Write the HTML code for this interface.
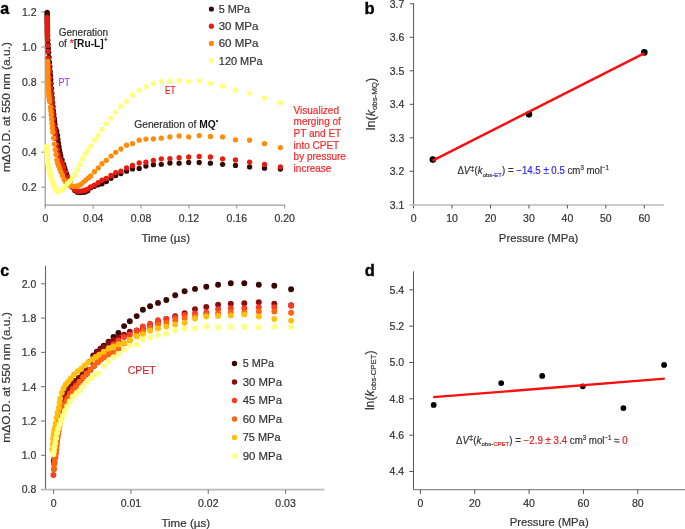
<!DOCTYPE html>
<html><head><meta charset="utf-8"><style>
html,body{margin:0;padding:0;background:#fff;width:685px;height:529px;overflow:hidden}
svg{display:block;will-change:transform}
text{font-family:"Liberation Sans",sans-serif}
</style></head><body>
<svg width="685" height="529" viewBox="0 0 685 529">
<rect width="685" height="529" fill="#fff"/>
<line x1="45.20" y1="11.50" x2="45.20" y2="208.60" stroke="#9a9a9a" stroke-width="1.2"/>
<line x1="44.60" y1="205.10" x2="284.90" y2="205.10" stroke="#9a9a9a" stroke-width="1.2"/>
<line x1="41.20" y1="12.00" x2="45.20" y2="12.00" stroke="#9a9a9a" stroke-width="1.1"/>
<text id="t_n1" x="36.50" y="15.80" font-size="10.5" text-anchor="end" fill="#333333" font-weight="normal" stroke="#333333" stroke-width="0.2" >1.2</text>
<line x1="41.20" y1="47.04" x2="45.20" y2="47.04" stroke="#9a9a9a" stroke-width="1.1"/>
<text id="t_n2" x="36.50" y="50.84" font-size="10.5" text-anchor="end" fill="#333333" font-weight="normal" stroke="#333333" stroke-width="0.2" >1.0</text>
<line x1="41.20" y1="82.08" x2="45.20" y2="82.08" stroke="#9a9a9a" stroke-width="1.1"/>
<text id="t_n3" x="36.50" y="85.88" font-size="10.5" text-anchor="end" fill="#333333" font-weight="normal" stroke="#333333" stroke-width="0.2" >0.8</text>
<line x1="41.20" y1="117.12" x2="45.20" y2="117.12" stroke="#9a9a9a" stroke-width="1.1"/>
<text id="t_n4" x="36.50" y="120.92" font-size="10.5" text-anchor="end" fill="#333333" font-weight="normal" stroke="#333333" stroke-width="0.2" >0.6</text>
<line x1="41.20" y1="152.16" x2="45.20" y2="152.16" stroke="#9a9a9a" stroke-width="1.1"/>
<text id="t_n5" x="36.50" y="155.96" font-size="10.5" text-anchor="end" fill="#333333" font-weight="normal" stroke="#333333" stroke-width="0.2" >0.4</text>
<line x1="41.20" y1="187.20" x2="45.20" y2="187.20" stroke="#9a9a9a" stroke-width="1.1"/>
<text id="t_n6" x="36.50" y="191.00" font-size="10.5" text-anchor="end" fill="#333333" font-weight="normal" stroke="#333333" stroke-width="0.2" >0.2</text>
<text id="t_n7" x="45.30" y="221.60" font-size="10.5" text-anchor="middle" fill="#333333" font-weight="normal" stroke="#333333" stroke-width="0.2" >0</text>
<line x1="93.18" y1="205.10" x2="93.18" y2="208.60" stroke="#9a9a9a" stroke-width="1.1"/>
<text id="t_n8" x="93.18" y="221.60" font-size="10.5" text-anchor="middle" fill="#333333" font-weight="normal" stroke="#333333" stroke-width="0.2" >0.04</text>
<line x1="141.06" y1="205.10" x2="141.06" y2="208.60" stroke="#9a9a9a" stroke-width="1.1"/>
<text id="t_n9" x="141.06" y="221.60" font-size="10.5" text-anchor="middle" fill="#333333" font-weight="normal" stroke="#333333" stroke-width="0.2" >0.08</text>
<line x1="188.94" y1="205.10" x2="188.94" y2="208.60" stroke="#9a9a9a" stroke-width="1.1"/>
<text id="t_n10" x="188.94" y="221.60" font-size="10.5" text-anchor="middle" fill="#333333" font-weight="normal" stroke="#333333" stroke-width="0.2" >0.12</text>
<line x1="236.82" y1="205.10" x2="236.82" y2="208.60" stroke="#9a9a9a" stroke-width="1.1"/>
<text id="t_n11" x="236.82" y="221.60" font-size="10.5" text-anchor="middle" fill="#333333" font-weight="normal" stroke="#333333" stroke-width="0.2" >0.16</text>
<line x1="284.70" y1="205.10" x2="284.70" y2="208.60" stroke="#9a9a9a" stroke-width="1.1"/>
<text id="t_n12" x="284.70" y="221.60" font-size="10.5" text-anchor="middle" fill="#333333" font-weight="normal" stroke="#333333" stroke-width="0.2" >0.20</text>
<g transform="matrix(0.9816,0,0,1,3.771,0)"><text id="t_timea" x="165.00" y="241.90" font-size="11.8" text-anchor="middle" fill="#333333" font-weight="normal" stroke="#333333" stroke-width="0.2" >Time (µs)</text></g>
<g transform="matrix(1,0,0,1.0866,-2.0,-15.674)"><text id="t_ya" stroke-width="0.2" transform="translate(12.3,113) rotate(-90)" font-size="11" text-anchor="middle" fill="#333333" stroke="#333333">mΔO.D. at 550 nm (a.u.)</text></g>
<text id="t_La" x="0.20" y="13.80" font-size="16" text-anchor="start" fill="#000" font-weight="bold" stroke="#000" stroke-width="0" style="stroke-width:0.35px">a</text>
<circle cx="47.20" cy="12.30" r="2.65" fill="#380808"/>
<circle cx="47.24" cy="13.71" r="2.65" fill="#380808"/>
<circle cx="47.27" cy="15.14" r="2.65" fill="#380808"/>
<circle cx="47.30" cy="16.51" r="2.65" fill="#380808"/>
<circle cx="47.33" cy="17.96" r="2.65" fill="#380808"/>
<circle cx="47.36" cy="19.41" r="2.65" fill="#380808"/>
<circle cx="47.38" cy="20.77" r="2.65" fill="#380808"/>
<circle cx="47.40" cy="22.20" r="2.65" fill="#380808"/>
<circle cx="47.42" cy="23.56" r="2.65" fill="#380808"/>
<circle cx="47.44" cy="25.05" r="2.65" fill="#380808"/>
<circle cx="47.46" cy="26.41" r="2.65" fill="#380808"/>
<circle cx="47.48" cy="27.75" r="2.65" fill="#380808"/>
<circle cx="47.50" cy="29.25" r="2.65" fill="#380808"/>
<circle cx="47.52" cy="30.56" r="2.65" fill="#380808"/>
<circle cx="47.64" cy="35.35" r="2.65" fill="#380808"/>
<circle cx="47.84" cy="40.13" r="2.65" fill="#380808"/>
<circle cx="48.10" cy="44.28" r="2.65" fill="#380808"/>
<circle cx="48.37" cy="48.36" r="2.65" fill="#380808"/>
<circle cx="48.64" cy="52.47" r="2.65" fill="#380808"/>
<circle cx="49.00" cy="57.32" r="2.65" fill="#380808"/>
<circle cx="49.44" cy="62.16" r="2.65" fill="#380808"/>
<circle cx="49.89" cy="66.96" r="2.65" fill="#380808"/>
<circle cx="50.24" cy="71.70" r="2.65" fill="#380808"/>
<circle cx="50.49" cy="75.69" r="2.65" fill="#380808"/>
<circle cx="50.75" cy="79.61" r="2.65" fill="#380808"/>
<circle cx="51.04" cy="83.52" r="2.65" fill="#380808"/>
<circle cx="51.43" cy="88.48" r="2.65" fill="#380808"/>
<circle cx="51.84" cy="93.42" r="2.65" fill="#380808"/>
<circle cx="52.23" cy="97.99" r="2.65" fill="#380808"/>
<circle cx="52.64" cy="102.47" r="2.65" fill="#380808"/>
<circle cx="53.04" cy="106.74" r="2.65" fill="#380808"/>
<circle cx="53.44" cy="110.96" r="2.65" fill="#380808"/>
<circle cx="53.81" cy="114.73" r="2.65" fill="#380808"/>
<circle cx="54.24" cy="118.46" r="2.65" fill="#380808"/>
<circle cx="54.62" cy="121.51" r="2.65" fill="#380808"/>
<circle cx="55.04" cy="124.55" r="2.65" fill="#380808"/>
<circle cx="55.84" cy="128.80" r="2.65" fill="#380808"/>
<circle cx="56.64" cy="131.20" r="2.65" fill="#380808"/>
<circle cx="57.48" cy="135.14" r="2.65" fill="#380808"/>
<circle cx="57.89" cy="139.18" r="2.65" fill="#380808"/>
<circle cx="58.44" cy="143.16" r="2.65" fill="#380808"/>
<circle cx="59.00" cy="146.67" r="2.65" fill="#380808"/>
<circle cx="59.52" cy="150.14" r="2.65" fill="#380808"/>
<circle cx="60.02" cy="152.98" r="2.65" fill="#380808"/>
<circle cx="60.73" cy="155.72" r="2.65" fill="#380808"/>
<circle cx="62.11" cy="159.95" r="2.65" fill="#380808"/>
<circle cx="63.67" cy="164.51" r="2.65" fill="#380808"/>
<circle cx="64.53" cy="167.42" r="2.65" fill="#380808"/>
<circle cx="65.42" cy="170.30" r="2.65" fill="#380808"/>
<circle cx="66.39" cy="173.33" r="2.65" fill="#380808"/>
<circle cx="67.41" cy="176.29" r="2.65" fill="#380808"/>
<circle cx="69.65" cy="181.81" r="2.65" fill="#380808"/>
<circle cx="72.19" cy="186.98" r="2.65" fill="#380808"/>
<circle cx="74.79" cy="190.51" r="2.65" fill="#380808"/>
<circle cx="77.39" cy="192.28" r="2.65" fill="#380808"/>
<circle cx="79.99" cy="192.58" r="2.65" fill="#380808"/>
<circle cx="82.59" cy="192.45" r="2.65" fill="#380808"/>
<circle cx="85.19" cy="192.10" r="2.65" fill="#380808"/>
<circle cx="87.79" cy="190.65" r="2.65" fill="#380808"/>
<circle cx="90.70" cy="187.80" r="2.65" fill="#380808"/>
<circle cx="94.40" cy="186.30" r="2.65" fill="#380808"/>
<circle cx="98.20" cy="184.80" r="2.65" fill="#380808"/>
<circle cx="102.00" cy="183.80" r="2.65" fill="#380808"/>
<circle cx="106.30" cy="181.60" r="2.65" fill="#380808"/>
<circle cx="111.00" cy="178.30" r="2.65" fill="#380808"/>
<circle cx="115.70" cy="175.50" r="2.65" fill="#380808"/>
<circle cx="120.90" cy="173.60" r="2.65" fill="#380808"/>
<circle cx="126.60" cy="171.20" r="2.65" fill="#380808"/>
<circle cx="132.50" cy="168.90" r="2.65" fill="#380808"/>
<circle cx="139.20" cy="168.40" r="2.65" fill="#380808"/>
<circle cx="145.90" cy="166.00" r="2.65" fill="#380808"/>
<circle cx="153.40" cy="164.70" r="2.65" fill="#380808"/>
<circle cx="161.30" cy="164.30" r="2.65" fill="#380808"/>
<circle cx="169.90" cy="163.00" r="2.65" fill="#380808"/>
<circle cx="179.10" cy="163.20" r="2.65" fill="#380808"/>
<circle cx="188.70" cy="162.50" r="2.65" fill="#380808"/>
<circle cx="199.20" cy="162.50" r="2.65" fill="#380808"/>
<circle cx="210.40" cy="163.20" r="2.65" fill="#380808"/>
<circle cx="222.60" cy="164.30" r="2.65" fill="#380808"/>
<circle cx="235.50" cy="165.40" r="2.65" fill="#380808"/>
<circle cx="249.60" cy="166.90" r="2.65" fill="#380808"/>
<circle cx="264.50" cy="168.20" r="2.65" fill="#380808"/>
<circle cx="280.40" cy="169.10" r="2.65" fill="#380808"/>
<circle cx="47.20" cy="17.30" r="2.65" fill="#e61c0e"/>
<circle cx="47.21" cy="19.33" r="2.65" fill="#e61c0e"/>
<circle cx="47.22" cy="21.06" r="2.65" fill="#e61c0e"/>
<circle cx="47.23" cy="23.14" r="2.65" fill="#e61c0e"/>
<circle cx="47.24" cy="24.85" r="2.65" fill="#e61c0e"/>
<circle cx="47.25" cy="26.82" r="2.65" fill="#e61c0e"/>
<circle cx="47.25" cy="28.67" r="2.65" fill="#e61c0e"/>
<circle cx="47.26" cy="30.35" r="2.65" fill="#e61c0e"/>
<circle cx="47.28" cy="32.24" r="2.65" fill="#e61c0e"/>
<circle cx="47.29" cy="34.01" r="2.65" fill="#e61c0e"/>
<circle cx="47.34" cy="35.79" r="2.65" fill="#e61c0e"/>
<circle cx="47.41" cy="37.62" r="2.65" fill="#e61c0e"/>
<circle cx="47.52" cy="39.46" r="2.65" fill="#e61c0e"/>
<circle cx="47.70" cy="45.56" r="2.65" fill="#e61c0e"/>
<circle cx="47.84" cy="51.51" r="2.65" fill="#e61c0e"/>
<circle cx="48.12" cy="58.03" r="2.65" fill="#e61c0e"/>
<circle cx="48.64" cy="64.45" r="2.65" fill="#e61c0e"/>
<circle cx="49.06" cy="68.03" r="2.65" fill="#e61c0e"/>
<circle cx="49.44" cy="71.61" r="2.65" fill="#e61c0e"/>
<circle cx="49.87" cy="77.39" r="2.65" fill="#e61c0e"/>
<circle cx="50.24" cy="83.11" r="2.65" fill="#e61c0e"/>
<circle cx="50.61" cy="88.43" r="2.65" fill="#e61c0e"/>
<circle cx="51.04" cy="93.71" r="2.65" fill="#e61c0e"/>
<circle cx="51.44" cy="98.26" r="2.65" fill="#e61c0e"/>
<circle cx="51.84" cy="102.75" r="2.65" fill="#e61c0e"/>
<circle cx="52.24" cy="107.26" r="2.65" fill="#e61c0e"/>
<circle cx="52.64" cy="111.71" r="2.65" fill="#e61c0e"/>
<circle cx="53.01" cy="115.50" r="2.65" fill="#e61c0e"/>
<circle cx="53.44" cy="119.27" r="2.65" fill="#e61c0e"/>
<circle cx="54.24" cy="125.20" r="2.65" fill="#e61c0e"/>
<circle cx="55.04" cy="129.85" r="2.65" fill="#e61c0e"/>
<circle cx="55.47" cy="134.14" r="2.65" fill="#e61c0e"/>
<circle cx="55.84" cy="138.39" r="2.65" fill="#e61c0e"/>
<circle cx="56.64" cy="144.33" r="2.65" fill="#e61c0e"/>
<circle cx="57.48" cy="149.40" r="2.65" fill="#e61c0e"/>
<circle cx="58.44" cy="154.30" r="2.65" fill="#e61c0e"/>
<circle cx="59.52" cy="158.57" r="2.65" fill="#e61c0e"/>
<circle cx="60.73" cy="161.10" r="2.65" fill="#e61c0e"/>
<circle cx="62.11" cy="163.84" r="2.65" fill="#e61c0e"/>
<circle cx="63.67" cy="167.12" r="2.65" fill="#e61c0e"/>
<circle cx="65.42" cy="171.79" r="2.65" fill="#e61c0e"/>
<circle cx="67.41" cy="177.22" r="2.65" fill="#e61c0e"/>
<circle cx="69.65" cy="182.33" r="2.65" fill="#e61c0e"/>
<circle cx="72.19" cy="187.00" r="2.65" fill="#e61c0e"/>
<circle cx="74.79" cy="189.76" r="2.65" fill="#e61c0e"/>
<circle cx="77.39" cy="191.17" r="2.65" fill="#e61c0e"/>
<circle cx="79.99" cy="191.22" r="2.65" fill="#e61c0e"/>
<circle cx="82.59" cy="190.84" r="2.65" fill="#e61c0e"/>
<circle cx="85.19" cy="190.26" r="2.65" fill="#e61c0e"/>
<circle cx="87.79" cy="189.09" r="2.65" fill="#e61c0e"/>
<circle cx="90.70" cy="186.80" r="2.65" fill="#e61c0e"/>
<circle cx="94.40" cy="185.10" r="2.65" fill="#e61c0e"/>
<circle cx="98.20" cy="182.60" r="2.65" fill="#e61c0e"/>
<circle cx="102.00" cy="180.20" r="2.65" fill="#e61c0e"/>
<circle cx="106.30" cy="178.30" r="2.65" fill="#e61c0e"/>
<circle cx="111.00" cy="175.50" r="2.65" fill="#e61c0e"/>
<circle cx="115.70" cy="172.60" r="2.65" fill="#e61c0e"/>
<circle cx="120.90" cy="171.20" r="2.65" fill="#e61c0e"/>
<circle cx="126.60" cy="167.90" r="2.65" fill="#e61c0e"/>
<circle cx="132.50" cy="165.50" r="2.65" fill="#e61c0e"/>
<circle cx="139.20" cy="162.90" r="2.65" fill="#e61c0e"/>
<circle cx="145.90" cy="162.20" r="2.65" fill="#e61c0e"/>
<circle cx="153.40" cy="160.30" r="2.65" fill="#e61c0e"/>
<circle cx="161.30" cy="158.80" r="2.65" fill="#e61c0e"/>
<circle cx="169.90" cy="158.60" r="2.65" fill="#e61c0e"/>
<circle cx="179.10" cy="157.70" r="2.65" fill="#e61c0e"/>
<circle cx="188.70" cy="157.00" r="2.65" fill="#e61c0e"/>
<circle cx="199.20" cy="156.40" r="2.65" fill="#e61c0e"/>
<circle cx="210.40" cy="157.00" r="2.65" fill="#e61c0e"/>
<circle cx="222.60" cy="158.80" r="2.65" fill="#e61c0e"/>
<circle cx="235.50" cy="159.90" r="2.65" fill="#e61c0e"/>
<circle cx="249.60" cy="162.10" r="2.65" fill="#e61c0e"/>
<circle cx="264.50" cy="164.30" r="2.65" fill="#e61c0e"/>
<circle cx="280.40" cy="166.90" r="2.65" fill="#e61c0e"/>
<circle cx="47.70" cy="61.30" r="2.65" fill="#ff8c0c"/>
<circle cx="47.74" cy="64.59" r="2.65" fill="#ff8c0c"/>
<circle cx="47.78" cy="67.75" r="2.65" fill="#ff8c0c"/>
<circle cx="47.82" cy="70.88" r="2.65" fill="#ff8c0c"/>
<circle cx="47.88" cy="74.05" r="2.65" fill="#ff8c0c"/>
<circle cx="47.94" cy="77.22" r="2.65" fill="#ff8c0c"/>
<circle cx="48.02" cy="80.37" r="2.65" fill="#ff8c0c"/>
<circle cx="48.10" cy="83.34" r="2.65" fill="#ff8c0c"/>
<circle cx="48.21" cy="86.33" r="2.65" fill="#ff8c0c"/>
<circle cx="48.35" cy="89.17" r="2.65" fill="#ff8c0c"/>
<circle cx="48.55" cy="92.11" r="2.65" fill="#ff8c0c"/>
<circle cx="48.82" cy="95.02" r="2.65" fill="#ff8c0c"/>
<circle cx="49.05" cy="97.19" r="2.65" fill="#ff8c0c"/>
<circle cx="49.32" cy="99.37" r="2.65" fill="#ff8c0c"/>
<circle cx="49.62" cy="101.51" r="2.65" fill="#ff8c0c"/>
<circle cx="50.42" cy="107.26" r="2.65" fill="#ff8c0c"/>
<circle cx="50.86" cy="110.98" r="2.65" fill="#ff8c0c"/>
<circle cx="51.22" cy="114.70" r="2.65" fill="#ff8c0c"/>
<circle cx="51.56" cy="119.12" r="2.65" fill="#ff8c0c"/>
<circle cx="52.02" cy="123.49" r="2.65" fill="#ff8c0c"/>
<circle cx="52.39" cy="127.90" r="2.65" fill="#ff8c0c"/>
<circle cx="52.82" cy="132.23" r="2.65" fill="#ff8c0c"/>
<circle cx="53.62" cy="138.03" r="2.65" fill="#ff8c0c"/>
<circle cx="54.42" cy="144.09" r="2.65" fill="#ff8c0c"/>
<circle cx="55.22" cy="149.53" r="2.65" fill="#ff8c0c"/>
<circle cx="56.02" cy="154.50" r="2.65" fill="#ff8c0c"/>
<circle cx="56.82" cy="159.91" r="2.65" fill="#ff8c0c"/>
<circle cx="57.69" cy="163.26" r="2.65" fill="#ff8c0c"/>
<circle cx="58.67" cy="165.99" r="2.65" fill="#ff8c0c"/>
<circle cx="59.78" cy="168.92" r="2.65" fill="#ff8c0c"/>
<circle cx="61.03" cy="172.12" r="2.65" fill="#ff8c0c"/>
<circle cx="62.44" cy="175.50" r="2.65" fill="#ff8c0c"/>
<circle cx="64.04" cy="179.45" r="2.65" fill="#ff8c0c"/>
<circle cx="65.85" cy="182.61" r="2.65" fill="#ff8c0c"/>
<circle cx="67.89" cy="184.54" r="2.65" fill="#ff8c0c"/>
<circle cx="70.19" cy="185.60" r="2.65" fill="#ff8c0c"/>
<circle cx="72.79" cy="186.25" r="2.65" fill="#ff8c0c"/>
<circle cx="75.39" cy="186.35" r="2.65" fill="#ff8c0c"/>
<circle cx="77.99" cy="185.75" r="2.65" fill="#ff8c0c"/>
<circle cx="80.59" cy="184.67" r="2.65" fill="#ff8c0c"/>
<circle cx="83.19" cy="182.32" r="2.65" fill="#ff8c0c"/>
<circle cx="85.79" cy="180.07" r="2.65" fill="#ff8c0c"/>
<circle cx="88.39" cy="177.92" r="2.65" fill="#ff8c0c"/>
<circle cx="90.70" cy="175.90" r="2.65" fill="#ff8c0c"/>
<circle cx="94.40" cy="171.70" r="2.65" fill="#ff8c0c"/>
<circle cx="98.20" cy="167.90" r="2.65" fill="#ff8c0c"/>
<circle cx="102.00" cy="163.70" r="2.65" fill="#ff8c0c"/>
<circle cx="106.30" cy="160.30" r="2.65" fill="#ff8c0c"/>
<circle cx="111.00" cy="156.10" r="2.65" fill="#ff8c0c"/>
<circle cx="115.70" cy="152.30" r="2.65" fill="#ff8c0c"/>
<circle cx="120.90" cy="149.00" r="2.65" fill="#ff8c0c"/>
<circle cx="126.60" cy="145.20" r="2.65" fill="#ff8c0c"/>
<circle cx="132.50" cy="143.60" r="2.65" fill="#ff8c0c"/>
<circle cx="139.20" cy="140.20" r="2.65" fill="#ff8c0c"/>
<circle cx="145.90" cy="139.10" r="2.65" fill="#ff8c0c"/>
<circle cx="153.40" cy="138.90" r="2.65" fill="#ff8c0c"/>
<circle cx="161.30" cy="138.20" r="2.65" fill="#ff8c0c"/>
<circle cx="169.90" cy="136.90" r="2.65" fill="#ff8c0c"/>
<circle cx="179.10" cy="136.00" r="2.65" fill="#ff8c0c"/>
<circle cx="188.70" cy="136.90" r="2.65" fill="#ff8c0c"/>
<circle cx="199.20" cy="135.60" r="2.65" fill="#ff8c0c"/>
<circle cx="210.40" cy="136.50" r="2.65" fill="#ff8c0c"/>
<circle cx="222.60" cy="136.90" r="2.65" fill="#ff8c0c"/>
<circle cx="235.50" cy="139.80" r="2.65" fill="#ff8c0c"/>
<circle cx="249.60" cy="140.20" r="2.65" fill="#ff8c0c"/>
<circle cx="264.50" cy="143.70" r="2.65" fill="#ff8c0c"/>
<circle cx="280.40" cy="147.60" r="2.65" fill="#ff8c0c"/>
<circle cx="46.60" cy="146.30" r="2.65" fill="#ffff7a"/>
<circle cx="46.77" cy="148.13" r="2.65" fill="#ffff7a"/>
<circle cx="46.92" cy="149.93" r="2.65" fill="#ffff7a"/>
<circle cx="47.04" cy="151.47" r="2.65" fill="#ffff7a"/>
<circle cx="47.15" cy="153.01" r="2.65" fill="#ffff7a"/>
<circle cx="47.24" cy="154.54" r="2.65" fill="#ffff7a"/>
<circle cx="47.34" cy="156.32" r="2.65" fill="#ffff7a"/>
<circle cx="47.44" cy="158.10" r="2.65" fill="#ffff7a"/>
<circle cx="47.56" cy="159.86" r="2.65" fill="#ffff7a"/>
<circle cx="47.71" cy="161.33" r="2.65" fill="#ffff7a"/>
<circle cx="47.88" cy="162.78" r="2.65" fill="#ffff7a"/>
<circle cx="48.11" cy="164.43" r="2.65" fill="#ffff7a"/>
<circle cx="48.38" cy="166.06" r="2.65" fill="#ffff7a"/>
<circle cx="48.68" cy="167.67" r="2.65" fill="#ffff7a"/>
<circle cx="49.06" cy="169.63" r="2.65" fill="#ffff7a"/>
<circle cx="49.48" cy="171.56" r="2.65" fill="#ffff7a"/>
<circle cx="49.87" cy="173.18" r="2.65" fill="#ffff7a"/>
<circle cx="50.28" cy="174.78" r="2.65" fill="#ffff7a"/>
<circle cx="50.67" cy="176.21" r="2.65" fill="#ffff7a"/>
<circle cx="51.08" cy="177.61" r="2.65" fill="#ffff7a"/>
<circle cx="51.47" cy="178.92" r="2.65" fill="#ffff7a"/>
<circle cx="51.88" cy="180.21" r="2.65" fill="#ffff7a"/>
<circle cx="52.27" cy="181.37" r="2.65" fill="#ffff7a"/>
<circle cx="52.68" cy="182.52" r="2.65" fill="#ffff7a"/>
<circle cx="53.48" cy="184.48" r="2.65" fill="#ffff7a"/>
<circle cx="54.28" cy="186.40" r="2.65" fill="#ffff7a"/>
<circle cx="55.08" cy="188.30" r="2.65" fill="#ffff7a"/>
<circle cx="55.88" cy="189.89" r="2.65" fill="#ffff7a"/>
<circle cx="56.68" cy="190.89" r="2.65" fill="#ffff7a"/>
<circle cx="57.53" cy="191.09" r="2.65" fill="#ffff7a"/>
<circle cx="58.49" cy="190.95" r="2.65" fill="#ffff7a"/>
<circle cx="59.57" cy="190.62" r="2.65" fill="#ffff7a"/>
<circle cx="60.80" cy="190.12" r="2.65" fill="#ffff7a"/>
<circle cx="62.18" cy="189.43" r="2.65" fill="#ffff7a"/>
<circle cx="63.75" cy="188.04" r="2.65" fill="#ffff7a"/>
<circle cx="65.52" cy="186.05" r="2.65" fill="#ffff7a"/>
<circle cx="67.52" cy="183.87" r="2.65" fill="#ffff7a"/>
<circle cx="69.77" cy="181.26" r="2.65" fill="#ffff7a"/>
<circle cx="72.33" cy="178.09" r="2.65" fill="#ffff7a"/>
<circle cx="74.93" cy="174.49" r="2.65" fill="#ffff7a"/>
<circle cx="77.53" cy="169.76" r="2.65" fill="#ffff7a"/>
<circle cx="80.13" cy="164.44" r="2.65" fill="#ffff7a"/>
<circle cx="82.73" cy="158.77" r="2.65" fill="#ffff7a"/>
<circle cx="85.33" cy="153.84" r="2.65" fill="#ffff7a"/>
<circle cx="87.93" cy="150.56" r="2.65" fill="#ffff7a"/>
<circle cx="90.70" cy="145.80" r="2.65" fill="#ffff7a"/>
<circle cx="94.40" cy="140.00" r="2.65" fill="#ffff7a"/>
<circle cx="98.20" cy="135.50" r="2.65" fill="#ffff7a"/>
<circle cx="102.00" cy="129.30" r="2.65" fill="#ffff7a"/>
<circle cx="106.30" cy="123.80" r="2.65" fill="#ffff7a"/>
<circle cx="111.00" cy="118.30" r="2.65" fill="#ffff7a"/>
<circle cx="115.70" cy="112.30" r="2.65" fill="#ffff7a"/>
<circle cx="120.90" cy="106.30" r="2.65" fill="#ffff7a"/>
<circle cx="126.60" cy="101.30" r="2.65" fill="#ffff7a"/>
<circle cx="132.50" cy="94.80" r="2.65" fill="#ffff7a"/>
<circle cx="139.20" cy="90.30" r="2.65" fill="#ffff7a"/>
<circle cx="145.90" cy="87.00" r="2.65" fill="#ffff7a"/>
<circle cx="153.40" cy="83.50" r="2.65" fill="#ffff7a"/>
<circle cx="161.30" cy="81.70" r="2.65" fill="#ffff7a"/>
<circle cx="169.90" cy="81.10" r="2.65" fill="#ffff7a"/>
<circle cx="179.10" cy="80.60" r="2.65" fill="#ffff7a"/>
<circle cx="188.70" cy="81.30" r="2.65" fill="#ffff7a"/>
<circle cx="199.20" cy="80.80" r="2.65" fill="#ffff7a"/>
<circle cx="210.40" cy="83.50" r="2.65" fill="#ffff7a"/>
<circle cx="222.60" cy="86.10" r="2.65" fill="#ffff7a"/>
<circle cx="235.50" cy="90.30" r="2.65" fill="#ffff7a"/>
<circle cx="249.60" cy="93.10" r="2.65" fill="#ffff7a"/>
<circle cx="264.50" cy="98.10" r="2.65" fill="#ffff7a"/>
<circle cx="280.40" cy="102.70" r="2.65" fill="#ffff7a"/>
<circle cx="211.40" cy="9.00" r="2.6" fill="#380808"/>
<g transform="matrix(0.9906,0,0,1,1.853,0)"><text id="t_lega0" x="218.90" y="13.00" font-size="11" text-anchor="start" fill="#333333" font-weight="normal" stroke="#333333" stroke-width="0.2" >5 MPa</text></g>
<circle cx="211.40" cy="26.20" r="2.6" fill="#e61c0e"/>
<g transform="matrix(1.0474,0,0,1,-10.574,0)"><text id="t_lega1" x="218.90" y="30.20" font-size="11" text-anchor="start" fill="#333333" font-weight="normal" stroke="#333333" stroke-width="0.2" >30 MPa</text></g>
<circle cx="211.40" cy="43.40" r="2.6" fill="#ff8c0c"/>
<g transform="matrix(1.0474,0,0,1,-10.574,0)"><text id="t_lega2" x="218.90" y="47.40" font-size="11" text-anchor="start" fill="#333333" font-weight="normal" stroke="#333333" stroke-width="0.2" >60 MPa</text></g>
<circle cx="211.40" cy="60.60" r="2.6" fill="#ffff7a"/>
<g transform="matrix(0.9977,0,0,1,0.398,0)"><text id="t_lega3" x="218.90" y="64.60" font-size="11" text-anchor="start" fill="#333333" font-weight="normal" stroke="#333333" stroke-width="0.2" >120 MPa</text></g>
<text id="t_n13" x="58.70" y="36.00" font-size="10" text-anchor="start" fill="#333333" font-weight="normal" stroke="#333333" stroke-width="0.2" >Generation</text>
<g transform="matrix(1.0208,0,0,1,-1.529,0)"><text id="t_ofru" stroke-width="0.2" x="58.7" y="47" font-size="10" fill="#333333" stroke="#333333">of <tspan fill="#e8201a" stroke="#e8201a">*</tspan><tspan font-weight="bold" stroke-width="0" fill="#111" stroke="#111">[Ru-L]</tspan><tspan font-size="7" dy="-4.5" fill="#111" stroke="#111">+</tspan></text></g>
<g transform="matrix(0.8538,0,0,1,8.423,0)"><text id="t_pt" x="58.80" y="85.90" font-size="10.5" text-anchor="start" fill="#b040e0" font-weight="normal" stroke="#b040e0" stroke-width="0.2" >PT</text></g>
<g transform="matrix(0.7692,0,0,1,37.808,0)"><text id="t_et" x="165.50" y="94.20" font-size="10.5" text-anchor="start" fill="#e8201a" font-weight="normal" stroke="#e8201a" stroke-width="0.2" >ET</text></g>
<g transform="matrix(1.0268,0,0,1,-3.495,0)"><text id="t_genmq" stroke-width="0.2" x="134.1" y="127.9" font-size="10" fill="#333333" stroke="#333333">Generation of <tspan font-weight="bold" stroke-width="0" fill="#111" stroke="#111">MQ</tspan><tspan font-size="7" dy="-4.5" fill="#111" stroke="#111">•</tspan></text></g>
<text id="t_n14" x="293.60" y="113.60" font-size="10" text-anchor="start" fill="#f5282a" font-weight="normal" stroke="#f5282a" stroke-width="0.2" >Visualized</text>
<text id="t_n15" x="293.60" y="125.30" font-size="10" text-anchor="start" fill="#f5282a" font-weight="normal" stroke="#f5282a" stroke-width="0.2" >merging of</text>
<text id="t_n16" x="293.60" y="137.00" font-size="10" text-anchor="start" fill="#f5282a" font-weight="normal" stroke="#f5282a" stroke-width="0.2" >PT and ET</text>
<text id="t_n17" x="293.60" y="148.70" font-size="10" text-anchor="start" fill="#f5282a" font-weight="normal" stroke="#f5282a" stroke-width="0.2" >into CPET</text>
<text id="t_n18" x="293.60" y="160.40" font-size="10" text-anchor="start" fill="#f5282a" font-weight="normal" stroke="#f5282a" stroke-width="0.2" >by pressure</text>
<text id="t_n19" x="293.60" y="172.10" font-size="10" text-anchor="start" fill="#f5282a" font-weight="normal" stroke="#f5282a" stroke-width="0.2" >increase</text>
<line x1="413.60" y1="3.30" x2="413.60" y2="208.40" stroke="#555" stroke-width="1.0"/>
<line x1="409.30" y1="205.00" x2="664.00" y2="205.00" stroke="#bbbbbb" stroke-width="1.6"/>
<line x1="409.70" y1="3.80" x2="413.60" y2="3.80" stroke="#555" stroke-width="1.0"/>
<text id="t_n20" x="404.30" y="7.50" font-size="10.5" text-anchor="end" fill="#333333" font-weight="normal" stroke="#333333" stroke-width="0.2" >3.7</text>
<line x1="409.70" y1="37.30" x2="413.60" y2="37.30" stroke="#555" stroke-width="1.0"/>
<text id="t_n21" x="404.30" y="41.00" font-size="10.5" text-anchor="end" fill="#333333" font-weight="normal" stroke="#333333" stroke-width="0.2" >3.6</text>
<line x1="409.70" y1="70.80" x2="413.60" y2="70.80" stroke="#555" stroke-width="1.0"/>
<text id="t_n22" x="404.30" y="74.50" font-size="10.5" text-anchor="end" fill="#333333" font-weight="normal" stroke="#333333" stroke-width="0.2" >3.5</text>
<line x1="409.70" y1="104.30" x2="413.60" y2="104.30" stroke="#555" stroke-width="1.0"/>
<text id="t_n23" x="404.30" y="108.00" font-size="10.5" text-anchor="end" fill="#333333" font-weight="normal" stroke="#333333" stroke-width="0.2" >3.4</text>
<line x1="409.70" y1="137.80" x2="413.60" y2="137.80" stroke="#555" stroke-width="1.0"/>
<text id="t_n24" x="404.30" y="141.50" font-size="10.5" text-anchor="end" fill="#333333" font-weight="normal" stroke="#333333" stroke-width="0.2" >3.3</text>
<line x1="409.70" y1="171.30" x2="413.60" y2="171.30" stroke="#555" stroke-width="1.0"/>
<text id="t_n25" x="404.30" y="175.00" font-size="10.5" text-anchor="end" fill="#333333" font-weight="normal" stroke="#333333" stroke-width="0.2" >3.2</text>
<text id="t_n26" x="404.30" y="208.50" font-size="10.5" text-anchor="end" fill="#333333" font-weight="normal" stroke="#333333" stroke-width="0.2" >3.1</text>
<text id="t_n27" x="413.60" y="221.50" font-size="10.5" text-anchor="middle" fill="#333333" font-weight="normal" stroke="#333333" stroke-width="0.2" >0</text>
<line x1="452.05" y1="205.00" x2="452.05" y2="208.50" stroke="#555" stroke-width="1.0"/>
<text id="t_n28" x="452.05" y="221.50" font-size="10.5" text-anchor="middle" fill="#333333" font-weight="normal" stroke="#333333" stroke-width="0.2" >10</text>
<line x1="490.50" y1="205.00" x2="490.50" y2="208.50" stroke="#555" stroke-width="1.0"/>
<text id="t_n29" x="490.50" y="221.50" font-size="10.5" text-anchor="middle" fill="#333333" font-weight="normal" stroke="#333333" stroke-width="0.2" >20</text>
<line x1="528.95" y1="205.00" x2="528.95" y2="208.50" stroke="#555" stroke-width="1.0"/>
<text id="t_n30" x="528.95" y="221.50" font-size="10.5" text-anchor="middle" fill="#333333" font-weight="normal" stroke="#333333" stroke-width="0.2" >30</text>
<line x1="567.40" y1="205.00" x2="567.40" y2="208.50" stroke="#555" stroke-width="1.0"/>
<text id="t_n31" x="567.40" y="221.50" font-size="10.5" text-anchor="middle" fill="#333333" font-weight="normal" stroke="#333333" stroke-width="0.2" >40</text>
<line x1="605.85" y1="205.00" x2="605.85" y2="208.50" stroke="#555" stroke-width="1.0"/>
<text id="t_n32" x="605.85" y="221.50" font-size="10.5" text-anchor="middle" fill="#333333" font-weight="normal" stroke="#333333" stroke-width="0.2" >50</text>
<line x1="644.30" y1="205.00" x2="644.30" y2="208.50" stroke="#555" stroke-width="1.0"/>
<text id="t_n33" x="644.30" y="221.50" font-size="10.5" text-anchor="middle" fill="#333333" font-weight="normal" stroke="#333333" stroke-width="0.2" >60</text>
<g transform="matrix(0.9800,0,0,1,10.580,0)"><text id="t_presb" x="538.80" y="241.90" font-size="11.6" text-anchor="middle" fill="#333333" font-weight="normal" stroke="#333333" stroke-width="0.2" >Pressure (MPa)</text></g>
<g transform="matrix(1,0,0,1.0380,-2.7,-3.902)"><text id="t_yb" stroke-width="0.2" transform="translate(377.4,104) rotate(-90)" font-size="12" text-anchor="middle" fill="#333333" stroke="#333333">ln(<tspan font-style="italic">k</tspan><tspan font-size="7.6" dy="2.3">obs-MQ</tspan><tspan dy="-2.3">)</tspan></text></g>
<text id="t_Lb" x="364.60" y="13.90" font-size="16.5" text-anchor="start" fill="#000" font-weight="bold" stroke="#000" stroke-width="0" style="stroke-width:0.35px">b</text>
<circle cx="432.83" cy="159.58" r="3.3" fill="#000"/>
<circle cx="528.95" cy="114.35" r="3.3" fill="#000"/>
<circle cx="644.30" cy="52.38" r="3.3" fill="#000"/>
<line x1="432.60" y1="160.70" x2="644.50" y2="53.10" stroke="#f80f0f" stroke-width="2.5"/>
<g transform="matrix(0.9675,0,0,1,15.045,0)"><text id="t_annb" stroke-width="0.2" x="457.2" y="174.4" font-size="10" fill="#333333" stroke="#333333">Δ<tspan font-style="italic">V</tspan><tspan font-size="8" dy="-3.5">‡</tspan><tspan dy="3.5">(</tspan><tspan font-style="italic">k</tspan><tspan font-size="6.2" dy="2.3">obs-</tspan><tspan font-size="6.2" fill="#3333ee" stroke="#3333ee">ET</tspan><tspan dy="-2.3">) = </tspan><tspan fill="#2a2aee" stroke="#2a2aee">−14.5 ± 0.5</tspan> cm<tspan font-size="6.3" dy="-4">3</tspan><tspan dy="4"> mol</tspan><tspan font-size="6.3" dy="-4">−1</tspan></text></g>
<line x1="45.50" y1="265.90" x2="45.50" y2="489.60" stroke="#666" stroke-width="1.1"/>
<line x1="40.80" y1="489.70" x2="324.40" y2="489.70" stroke="#bbbbbb" stroke-width="1.7"/>
<line x1="41.10" y1="283.80" x2="45.50" y2="283.80" stroke="#777" stroke-width="1.1"/>
<text id="t_n34" x="36.30" y="287.60" font-size="10.5" text-anchor="end" fill="#333333" font-weight="normal" stroke="#333333" stroke-width="0.2" >2.0</text>
<line x1="41.10" y1="318.10" x2="45.50" y2="318.10" stroke="#777" stroke-width="1.1"/>
<text id="t_n35" x="36.30" y="321.90" font-size="10.5" text-anchor="end" fill="#333333" font-weight="normal" stroke="#333333" stroke-width="0.2" >1.8</text>
<line x1="41.10" y1="352.40" x2="45.50" y2="352.40" stroke="#777" stroke-width="1.1"/>
<text id="t_n36" x="36.30" y="356.20" font-size="10.5" text-anchor="end" fill="#333333" font-weight="normal" stroke="#333333" stroke-width="0.2" >1.6</text>
<line x1="41.10" y1="386.70" x2="45.50" y2="386.70" stroke="#777" stroke-width="1.1"/>
<text id="t_n37" x="36.30" y="390.50" font-size="10.5" text-anchor="end" fill="#333333" font-weight="normal" stroke="#333333" stroke-width="0.2" >1.4</text>
<line x1="41.10" y1="421.00" x2="45.50" y2="421.00" stroke="#777" stroke-width="1.1"/>
<text id="t_n38" x="36.30" y="424.80" font-size="10.5" text-anchor="end" fill="#333333" font-weight="normal" stroke="#333333" stroke-width="0.2" >1.2</text>
<line x1="41.10" y1="455.30" x2="45.50" y2="455.30" stroke="#777" stroke-width="1.1"/>
<text id="t_n39" x="36.30" y="459.10" font-size="10.5" text-anchor="end" fill="#333333" font-weight="normal" stroke="#333333" stroke-width="0.2" >1.0</text>
<text id="t_n40" x="36.30" y="493.40" font-size="10.5" text-anchor="end" fill="#333333" font-weight="normal" stroke="#333333" stroke-width="0.2" >0.8</text>
<line x1="53.60" y1="489.70" x2="53.60" y2="494.00" stroke="#777" stroke-width="1.0"/>
<text id="t_n41" x="53.60" y="507.20" font-size="10.5" text-anchor="middle" fill="#333333" font-weight="normal" stroke="#333333" stroke-width="0.2" >0</text>
<line x1="130.93" y1="489.70" x2="130.93" y2="494.00" stroke="#777" stroke-width="1.0"/>
<text id="t_n42" x="130.93" y="507.20" font-size="10.5" text-anchor="middle" fill="#333333" font-weight="normal" stroke="#333333" stroke-width="0.2" >0.01</text>
<line x1="208.26" y1="489.70" x2="208.26" y2="494.00" stroke="#777" stroke-width="1.0"/>
<text id="t_n43" x="208.26" y="507.20" font-size="10.5" text-anchor="middle" fill="#333333" font-weight="normal" stroke="#333333" stroke-width="0.2" >0.02</text>
<line x1="285.59" y1="489.70" x2="285.59" y2="494.00" stroke="#777" stroke-width="1.0"/>
<text id="t_n44" x="285.59" y="507.20" font-size="10.5" text-anchor="middle" fill="#333333" font-weight="normal" stroke="#333333" stroke-width="0.2" >0.03</text>
<g transform="matrix(0.9816,0,0,1,4.139,0)"><text id="t_timec" x="185.00" y="526.80" font-size="11.8" text-anchor="middle" fill="#333333" font-weight="normal" stroke="#333333" stroke-width="0.2" >Time (µs)</text></g>
<g transform="matrix(1,0,0,1.1451,-2.0,-54.788)"><text id="t_yc" stroke-width="0.2" transform="translate(12.3,377.5) rotate(-90)" font-size="10.5" text-anchor="middle" fill="#333333" stroke="#333333">mΔO.D. at 550 nm (a.u.)</text></g>
<text id="t_Lc" x="0.30" y="276.20" font-size="16" text-anchor="start" fill="#000" font-weight="bold" stroke="#000" stroke-width="0" style="stroke-width:0.35px">c</text>
<circle cx="53.80" cy="460.50" r="2.95" fill="#3a0606"/>
<circle cx="54.42" cy="454.89" r="2.95" fill="#3a0606"/>
<circle cx="55.14" cy="448.77" r="2.95" fill="#3a0606"/>
<circle cx="55.97" cy="442.39" r="2.95" fill="#3a0606"/>
<circle cx="56.45" cy="438.91" r="2.95" fill="#3a0606"/>
<circle cx="56.92" cy="435.46" r="2.95" fill="#3a0606"/>
<circle cx="57.51" cy="430.67" r="2.95" fill="#3a0606"/>
<circle cx="58.01" cy="425.96" r="2.95" fill="#3a0606"/>
<circle cx="58.55" cy="421.07" r="2.95" fill="#3a0606"/>
<circle cx="59.27" cy="416.27" r="2.95" fill="#3a0606"/>
<circle cx="59.95" cy="412.65" r="2.95" fill="#3a0606"/>
<circle cx="60.72" cy="409.11" r="2.95" fill="#3a0606"/>
<circle cx="61.51" cy="405.93" r="2.95" fill="#3a0606"/>
<circle cx="62.38" cy="402.81" r="2.95" fill="#3a0606"/>
<circle cx="64.29" cy="396.87" r="2.95" fill="#3a0606"/>
<circle cx="66.49" cy="391.99" r="2.95" fill="#3a0606"/>
<circle cx="69.02" cy="388.14" r="2.95" fill="#3a0606"/>
<circle cx="71.93" cy="384.53" r="2.95" fill="#3a0606"/>
<circle cx="75.27" cy="381.05" r="2.95" fill="#3a0606"/>
<circle cx="78.87" cy="378.04" r="2.95" fill="#3a0606"/>
<circle cx="82.47" cy="374.54" r="2.95" fill="#3a0606"/>
<circle cx="86.07" cy="369.86" r="2.95" fill="#3a0606"/>
<circle cx="89.67" cy="362.02" r="2.95" fill="#3a0606"/>
<circle cx="93.27" cy="355.53" r="2.95" fill="#3a0606"/>
<circle cx="96.87" cy="351.64" r="2.95" fill="#3a0606"/>
<circle cx="100.47" cy="348.63" r="2.95" fill="#3a0606"/>
<circle cx="103.70" cy="345.70" r="2.95" fill="#3a0606"/>
<circle cx="108.60" cy="341.60" r="2.95" fill="#3a0606"/>
<circle cx="113.50" cy="337.00" r="2.95" fill="#3a0606"/>
<circle cx="118.40" cy="332.90" r="2.95" fill="#3a0606"/>
<circle cx="124.10" cy="326.10" r="2.95" fill="#3a0606"/>
<circle cx="129.80" cy="321.20" r="2.95" fill="#3a0606"/>
<circle cx="136.70" cy="316.10" r="2.95" fill="#3a0606"/>
<circle cx="142.90" cy="309.70" r="2.95" fill="#3a0606"/>
<circle cx="150.10" cy="306.20" r="2.95" fill="#3a0606"/>
<circle cx="158.00" cy="302.90" r="2.95" fill="#3a0606"/>
<circle cx="166.30" cy="300.00" r="2.95" fill="#3a0606"/>
<circle cx="175.20" cy="295.20" r="2.95" fill="#3a0606"/>
<circle cx="184.60" cy="291.30" r="2.95" fill="#3a0606"/>
<circle cx="195.00" cy="288.90" r="2.95" fill="#3a0606"/>
<circle cx="206.30" cy="286.80" r="2.95" fill="#3a0606"/>
<circle cx="218.10" cy="284.80" r="2.95" fill="#3a0606"/>
<circle cx="230.80" cy="283.20" r="2.95" fill="#3a0606"/>
<circle cx="244.30" cy="283.20" r="2.95" fill="#3a0606"/>
<circle cx="258.80" cy="284.80" r="2.95" fill="#3a0606"/>
<circle cx="274.30" cy="285.80" r="2.95" fill="#3a0606"/>
<circle cx="291.10" cy="289.30" r="2.95" fill="#3a0606"/>
<circle cx="53.90" cy="462.50" r="2.95" fill="#8a0e0e"/>
<circle cx="54.54" cy="456.75" r="2.95" fill="#8a0e0e"/>
<circle cx="55.28" cy="450.51" r="2.95" fill="#8a0e0e"/>
<circle cx="55.68" cy="447.28" r="2.95" fill="#8a0e0e"/>
<circle cx="56.12" cy="444.06" r="2.95" fill="#8a0e0e"/>
<circle cx="56.62" cy="440.49" r="2.95" fill="#8a0e0e"/>
<circle cx="57.10" cy="436.95" r="2.95" fill="#8a0e0e"/>
<circle cx="57.71" cy="431.67" r="2.95" fill="#8a0e0e"/>
<circle cx="58.22" cy="426.46" r="2.95" fill="#8a0e0e"/>
<circle cx="58.75" cy="421.39" r="2.95" fill="#8a0e0e"/>
<circle cx="59.50" cy="416.46" r="2.95" fill="#8a0e0e"/>
<circle cx="60.19" cy="412.89" r="2.95" fill="#8a0e0e"/>
<circle cx="60.98" cy="409.37" r="2.95" fill="#8a0e0e"/>
<circle cx="62.69" cy="403.10" r="2.95" fill="#8a0e0e"/>
<circle cx="64.64" cy="397.20" r="2.95" fill="#8a0e0e"/>
<circle cx="66.89" cy="392.46" r="2.95" fill="#8a0e0e"/>
<circle cx="69.48" cy="388.66" r="2.95" fill="#8a0e0e"/>
<circle cx="72.46" cy="385.07" r="2.95" fill="#8a0e0e"/>
<circle cx="75.89" cy="381.51" r="2.95" fill="#8a0e0e"/>
<circle cx="79.49" cy="378.19" r="2.95" fill="#8a0e0e"/>
<circle cx="83.09" cy="374.56" r="2.95" fill="#8a0e0e"/>
<circle cx="86.69" cy="370.04" r="2.95" fill="#8a0e0e"/>
<circle cx="90.29" cy="361.83" r="2.95" fill="#8a0e0e"/>
<circle cx="93.89" cy="355.84" r="2.95" fill="#8a0e0e"/>
<circle cx="97.49" cy="352.32" r="2.95" fill="#8a0e0e"/>
<circle cx="101.09" cy="349.39" r="2.95" fill="#8a0e0e"/>
<circle cx="103.70" cy="347.00" r="2.95" fill="#8a0e0e"/>
<circle cx="108.60" cy="342.70" r="2.95" fill="#8a0e0e"/>
<circle cx="113.50" cy="339.70" r="2.95" fill="#8a0e0e"/>
<circle cx="118.40" cy="337.40" r="2.95" fill="#8a0e0e"/>
<circle cx="124.10" cy="334.80" r="2.95" fill="#8a0e0e"/>
<circle cx="129.80" cy="331.80" r="2.95" fill="#8a0e0e"/>
<circle cx="136.70" cy="330.50" r="2.95" fill="#8a0e0e"/>
<circle cx="142.90" cy="328.90" r="2.95" fill="#8a0e0e"/>
<circle cx="150.10" cy="325.50" r="2.95" fill="#8a0e0e"/>
<circle cx="158.00" cy="322.00" r="2.95" fill="#8a0e0e"/>
<circle cx="166.30" cy="319.00" r="2.95" fill="#8a0e0e"/>
<circle cx="175.20" cy="316.10" r="2.95" fill="#8a0e0e"/>
<circle cx="184.60" cy="313.30" r="2.95" fill="#8a0e0e"/>
<circle cx="195.00" cy="309.30" r="2.95" fill="#8a0e0e"/>
<circle cx="206.30" cy="306.90" r="2.95" fill="#8a0e0e"/>
<circle cx="218.10" cy="304.80" r="2.95" fill="#8a0e0e"/>
<circle cx="230.80" cy="303.80" r="2.95" fill="#8a0e0e"/>
<circle cx="244.30" cy="303.20" r="2.95" fill="#8a0e0e"/>
<circle cx="258.80" cy="302.20" r="2.95" fill="#8a0e0e"/>
<circle cx="274.30" cy="303.80" r="2.95" fill="#8a0e0e"/>
<circle cx="291.10" cy="305.20" r="2.95" fill="#8a0e0e"/>
<circle cx="53.40" cy="475.00" r="2.95" fill="#fa3e24"/>
<circle cx="53.96" cy="468.78" r="2.95" fill="#fa3e24"/>
<circle cx="54.61" cy="462.82" r="2.95" fill="#fa3e24"/>
<circle cx="55.36" cy="457.19" r="2.95" fill="#fa3e24"/>
<circle cx="55.85" cy="453.06" r="2.95" fill="#fa3e24"/>
<circle cx="56.22" cy="448.95" r="2.95" fill="#fa3e24"/>
<circle cx="56.67" cy="443.83" r="2.95" fill="#fa3e24"/>
<circle cx="57.21" cy="438.76" r="2.95" fill="#fa3e24"/>
<circle cx="57.74" cy="434.41" r="2.95" fill="#fa3e24"/>
<circle cx="58.35" cy="430.08" r="2.95" fill="#fa3e24"/>
<circle cx="58.98" cy="425.80" r="2.95" fill="#fa3e24"/>
<circle cx="59.65" cy="421.53" r="2.95" fill="#fa3e24"/>
<circle cx="60.33" cy="417.72" r="2.95" fill="#fa3e24"/>
<circle cx="61.16" cy="413.97" r="2.95" fill="#fa3e24"/>
<circle cx="62.88" cy="408.12" r="2.95" fill="#fa3e24"/>
<circle cx="64.87" cy="402.87" r="2.95" fill="#fa3e24"/>
<circle cx="67.16" cy="397.99" r="2.95" fill="#fa3e24"/>
<circle cx="69.79" cy="393.12" r="2.95" fill="#fa3e24"/>
<circle cx="72.81" cy="388.69" r="2.95" fill="#fa3e24"/>
<circle cx="76.29" cy="385.25" r="2.95" fill="#fa3e24"/>
<circle cx="79.89" cy="382.21" r="2.95" fill="#fa3e24"/>
<circle cx="83.49" cy="378.39" r="2.95" fill="#fa3e24"/>
<circle cx="87.09" cy="374.18" r="2.95" fill="#fa3e24"/>
<circle cx="90.69" cy="369.46" r="2.95" fill="#fa3e24"/>
<circle cx="94.29" cy="365.51" r="2.95" fill="#fa3e24"/>
<circle cx="97.89" cy="362.33" r="2.95" fill="#fa3e24"/>
<circle cx="103.70" cy="357.00" r="2.95" fill="#fa3e24"/>
<circle cx="108.60" cy="351.00" r="2.95" fill="#fa3e24"/>
<circle cx="113.50" cy="344.20" r="2.95" fill="#fa3e24"/>
<circle cx="118.40" cy="340.50" r="2.95" fill="#fa3e24"/>
<circle cx="124.10" cy="337.00" r="2.95" fill="#fa3e24"/>
<circle cx="129.80" cy="334.80" r="2.95" fill="#fa3e24"/>
<circle cx="136.70" cy="330.70" r="2.95" fill="#fa3e24"/>
<circle cx="142.90" cy="326.50" r="2.95" fill="#fa3e24"/>
<circle cx="150.10" cy="323.70" r="2.95" fill="#fa3e24"/>
<circle cx="158.00" cy="320.30" r="2.95" fill="#fa3e24"/>
<circle cx="166.30" cy="318.90" r="2.95" fill="#fa3e24"/>
<circle cx="175.20" cy="317.50" r="2.95" fill="#fa3e24"/>
<circle cx="184.60" cy="315.00" r="2.95" fill="#fa3e24"/>
<circle cx="195.00" cy="313.40" r="2.95" fill="#fa3e24"/>
<circle cx="206.30" cy="312.40" r="2.95" fill="#fa3e24"/>
<circle cx="218.10" cy="309.30" r="2.95" fill="#fa3e24"/>
<circle cx="230.80" cy="308.30" r="2.95" fill="#fa3e24"/>
<circle cx="244.30" cy="308.30" r="2.95" fill="#fa3e24"/>
<circle cx="258.80" cy="307.30" r="2.95" fill="#fa3e24"/>
<circle cx="274.30" cy="307.30" r="2.95" fill="#fa3e24"/>
<circle cx="291.10" cy="305.70" r="2.95" fill="#fa3e24"/>
<circle cx="53.90" cy="469.30" r="2.95" fill="#ff6410"/>
<circle cx="54.15" cy="464.38" r="2.95" fill="#ff6410"/>
<circle cx="54.54" cy="459.58" r="2.95" fill="#ff6410"/>
<circle cx="55.28" cy="455.38" r="2.95" fill="#ff6410"/>
<circle cx="56.12" cy="450.00" r="2.95" fill="#ff6410"/>
<circle cx="56.60" cy="445.85" r="2.95" fill="#ff6410"/>
<circle cx="57.10" cy="441.78" r="2.95" fill="#ff6410"/>
<circle cx="57.64" cy="437.88" r="2.95" fill="#ff6410"/>
<circle cx="58.22" cy="434.03" r="2.95" fill="#ff6410"/>
<circle cx="58.86" cy="430.05" r="2.95" fill="#ff6410"/>
<circle cx="59.50" cy="426.08" r="2.95" fill="#ff6410"/>
<circle cx="60.21" cy="421.97" r="2.95" fill="#ff6410"/>
<circle cx="60.98" cy="417.95" r="2.95" fill="#ff6410"/>
<circle cx="61.75" cy="414.67" r="2.95" fill="#ff6410"/>
<circle cx="62.69" cy="411.47" r="2.95" fill="#ff6410"/>
<circle cx="64.64" cy="405.84" r="2.95" fill="#ff6410"/>
<circle cx="66.89" cy="400.76" r="2.95" fill="#ff6410"/>
<circle cx="69.48" cy="396.15" r="2.95" fill="#ff6410"/>
<circle cx="72.46" cy="392.02" r="2.95" fill="#ff6410"/>
<circle cx="75.89" cy="387.15" r="2.95" fill="#ff6410"/>
<circle cx="79.49" cy="381.76" r="2.95" fill="#ff6410"/>
<circle cx="83.09" cy="377.17" r="2.95" fill="#ff6410"/>
<circle cx="86.69" cy="373.56" r="2.95" fill="#ff6410"/>
<circle cx="90.29" cy="370.13" r="2.95" fill="#ff6410"/>
<circle cx="93.89" cy="366.16" r="2.95" fill="#ff6410"/>
<circle cx="97.49" cy="362.11" r="2.95" fill="#ff6410"/>
<circle cx="101.09" cy="359.20" r="2.95" fill="#ff6410"/>
<circle cx="103.70" cy="357.50" r="2.95" fill="#ff6410"/>
<circle cx="108.60" cy="354.50" r="2.95" fill="#ff6410"/>
<circle cx="113.50" cy="352.50" r="2.95" fill="#ff6410"/>
<circle cx="118.40" cy="348.80" r="2.95" fill="#ff6410"/>
<circle cx="124.10" cy="343.50" r="2.95" fill="#ff6410"/>
<circle cx="129.80" cy="340.00" r="2.95" fill="#ff6410"/>
<circle cx="136.70" cy="335.50" r="2.95" fill="#ff6410"/>
<circle cx="142.90" cy="331.50" r="2.95" fill="#ff6410"/>
<circle cx="150.10" cy="328.00" r="2.95" fill="#ff6410"/>
<circle cx="158.00" cy="324.50" r="2.95" fill="#ff6410"/>
<circle cx="166.30" cy="323.00" r="2.95" fill="#ff6410"/>
<circle cx="175.20" cy="320.30" r="2.95" fill="#ff6410"/>
<circle cx="184.60" cy="318.00" r="2.95" fill="#ff6410"/>
<circle cx="195.00" cy="316.50" r="2.95" fill="#ff6410"/>
<circle cx="206.30" cy="314.40" r="2.95" fill="#ff6410"/>
<circle cx="218.10" cy="313.40" r="2.95" fill="#ff6410"/>
<circle cx="230.80" cy="312.40" r="2.95" fill="#ff6410"/>
<circle cx="244.30" cy="312.40" r="2.95" fill="#ff6410"/>
<circle cx="258.80" cy="311.40" r="2.95" fill="#ff6410"/>
<circle cx="274.30" cy="311.40" r="2.95" fill="#ff6410"/>
<circle cx="291.10" cy="312.80" r="2.95" fill="#ff6410"/>
<circle cx="52.50" cy="449.40" r="2.95" fill="#ffbf0a"/>
<circle cx="52.71" cy="443.96" r="2.95" fill="#ffbf0a"/>
<circle cx="53.05" cy="438.66" r="2.95" fill="#ffbf0a"/>
<circle cx="53.60" cy="434.24" r="2.95" fill="#ffbf0a"/>
<circle cx="54.19" cy="430.72" r="2.95" fill="#ffbf0a"/>
<circle cx="54.88" cy="427.53" r="2.95" fill="#ffbf0a"/>
<circle cx="55.67" cy="423.51" r="2.95" fill="#ffbf0a"/>
<circle cx="56.57" cy="417.66" r="2.95" fill="#ffbf0a"/>
<circle cx="57.61" cy="412.82" r="2.95" fill="#ffbf0a"/>
<circle cx="58.81" cy="407.65" r="2.95" fill="#ffbf0a"/>
<circle cx="59.56" cy="403.02" r="2.95" fill="#ffbf0a"/>
<circle cx="60.18" cy="398.43" r="2.95" fill="#ffbf0a"/>
<circle cx="61.77" cy="392.75" r="2.95" fill="#ffbf0a"/>
<circle cx="63.59" cy="388.26" r="2.95" fill="#ffbf0a"/>
<circle cx="65.68" cy="384.47" r="2.95" fill="#ffbf0a"/>
<circle cx="68.09" cy="381.84" r="2.95" fill="#ffbf0a"/>
<circle cx="70.86" cy="378.32" r="2.95" fill="#ffbf0a"/>
<circle cx="74.04" cy="374.37" r="2.95" fill="#ffbf0a"/>
<circle cx="77.64" cy="371.30" r="2.95" fill="#ffbf0a"/>
<circle cx="81.24" cy="368.63" r="2.95" fill="#ffbf0a"/>
<circle cx="84.84" cy="365.46" r="2.95" fill="#ffbf0a"/>
<circle cx="88.44" cy="362.32" r="2.95" fill="#ffbf0a"/>
<circle cx="92.04" cy="359.39" r="2.95" fill="#ffbf0a"/>
<circle cx="95.64" cy="356.88" r="2.95" fill="#ffbf0a"/>
<circle cx="99.24" cy="354.61" r="2.95" fill="#ffbf0a"/>
<circle cx="103.70" cy="351.60" r="2.95" fill="#ffbf0a"/>
<circle cx="108.60" cy="348.80" r="2.95" fill="#ffbf0a"/>
<circle cx="113.50" cy="346.50" r="2.95" fill="#ffbf0a"/>
<circle cx="118.40" cy="344.20" r="2.95" fill="#ffbf0a"/>
<circle cx="124.10" cy="343.10" r="2.95" fill="#ffbf0a"/>
<circle cx="129.80" cy="339.70" r="2.95" fill="#ffbf0a"/>
<circle cx="136.70" cy="336.40" r="2.95" fill="#ffbf0a"/>
<circle cx="142.90" cy="334.10" r="2.95" fill="#ffbf0a"/>
<circle cx="150.10" cy="330.70" r="2.95" fill="#ffbf0a"/>
<circle cx="158.00" cy="328.40" r="2.95" fill="#ffbf0a"/>
<circle cx="166.30" cy="326.50" r="2.95" fill="#ffbf0a"/>
<circle cx="175.20" cy="324.60" r="2.95" fill="#ffbf0a"/>
<circle cx="184.60" cy="322.70" r="2.95" fill="#ffbf0a"/>
<circle cx="195.00" cy="318.50" r="2.95" fill="#ffbf0a"/>
<circle cx="206.30" cy="316.50" r="2.95" fill="#ffbf0a"/>
<circle cx="218.10" cy="315.90" r="2.95" fill="#ffbf0a"/>
<circle cx="230.80" cy="315.50" r="2.95" fill="#ffbf0a"/>
<circle cx="244.30" cy="314.40" r="2.95" fill="#ffbf0a"/>
<circle cx="258.80" cy="316.50" r="2.95" fill="#ffbf0a"/>
<circle cx="274.30" cy="318.90" r="2.95" fill="#ffbf0a"/>
<circle cx="291.10" cy="320.60" r="2.95" fill="#ffbf0a"/>
<circle cx="53.40" cy="454.30" r="2.95" fill="#ffff84"/>
<circle cx="53.96" cy="451.03" r="2.95" fill="#ffff84"/>
<circle cx="54.61" cy="447.30" r="2.95" fill="#ffff84"/>
<circle cx="55.36" cy="443.04" r="2.95" fill="#ffff84"/>
<circle cx="56.22" cy="438.08" r="2.95" fill="#ffff84"/>
<circle cx="57.21" cy="432.96" r="2.95" fill="#ffff84"/>
<circle cx="58.35" cy="428.72" r="2.95" fill="#ffff84"/>
<circle cx="59.65" cy="424.68" r="2.95" fill="#ffff84"/>
<circle cx="61.16" cy="420.52" r="2.95" fill="#ffff84"/>
<circle cx="62.88" cy="415.92" r="2.95" fill="#ffff84"/>
<circle cx="64.87" cy="411.06" r="2.95" fill="#ffff84"/>
<circle cx="67.16" cy="406.18" r="2.95" fill="#ffff84"/>
<circle cx="69.79" cy="401.35" r="2.95" fill="#ffff84"/>
<circle cx="72.81" cy="396.80" r="2.95" fill="#ffff84"/>
<circle cx="76.29" cy="393.33" r="2.95" fill="#ffff84"/>
<circle cx="79.89" cy="390.33" r="2.95" fill="#ffff84"/>
<circle cx="83.49" cy="385.81" r="2.95" fill="#ffff84"/>
<circle cx="87.09" cy="381.33" r="2.95" fill="#ffff84"/>
<circle cx="90.69" cy="378.27" r="2.95" fill="#ffff84"/>
<circle cx="94.29" cy="375.34" r="2.95" fill="#ffff84"/>
<circle cx="97.89" cy="373.19" r="2.95" fill="#ffff84"/>
<circle cx="103.70" cy="366.10" r="2.95" fill="#ffff84"/>
<circle cx="108.60" cy="361.50" r="2.95" fill="#ffff84"/>
<circle cx="113.50" cy="357.10" r="2.95" fill="#ffff84"/>
<circle cx="118.40" cy="353.90" r="2.95" fill="#ffff84"/>
<circle cx="124.10" cy="349.40" r="2.95" fill="#ffff84"/>
<circle cx="129.80" cy="345.60" r="2.95" fill="#ffff84"/>
<circle cx="136.70" cy="344.60" r="2.95" fill="#ffff84"/>
<circle cx="142.90" cy="339.40" r="2.95" fill="#ffff84"/>
<circle cx="150.10" cy="337.50" r="2.95" fill="#ffff84"/>
<circle cx="158.00" cy="334.90" r="2.95" fill="#ffff84"/>
<circle cx="166.30" cy="333.70" r="2.95" fill="#ffff84"/>
<circle cx="175.20" cy="330.40" r="2.95" fill="#ffff84"/>
<circle cx="184.60" cy="329.00" r="2.95" fill="#ffff84"/>
<circle cx="195.00" cy="328.30" r="2.95" fill="#ffff84"/>
<circle cx="206.30" cy="326.30" r="2.95" fill="#ffff84"/>
<circle cx="218.10" cy="327.30" r="2.95" fill="#ffff84"/>
<circle cx="230.80" cy="326.70" r="2.95" fill="#ffff84"/>
<circle cx="244.30" cy="326.70" r="2.95" fill="#ffff84"/>
<circle cx="258.80" cy="327.30" r="2.95" fill="#ffff84"/>
<circle cx="274.30" cy="326.70" r="2.95" fill="#ffff84"/>
<circle cx="291.10" cy="326.90" r="2.95" fill="#ffff84"/>
<circle cx="234.50" cy="363.50" r="2.7" fill="#3a0606"/>
<g transform="matrix(0.9844,0,0,1,3.697,0)"><text id="t_legc0" x="242.90" y="367.40" font-size="11" text-anchor="start" fill="#333333" font-weight="normal" stroke="#333333" stroke-width="0.2" >5 MPa</text></g>
<circle cx="234.50" cy="382.00" r="2.7" fill="#8a0e0e"/>
<g transform="matrix(1.0368,0,0,1,-9.053,0)"><text id="t_legc1" x="242.90" y="385.90" font-size="11" text-anchor="start" fill="#333333" font-weight="normal" stroke="#333333" stroke-width="0.2" >30 MPa</text></g>
<circle cx="234.50" cy="400.50" r="2.7" fill="#fa3e24"/>
<g transform="matrix(1.0368,0,0,1,-9.053,0)"><text id="t_legc2" x="242.90" y="404.40" font-size="11" text-anchor="start" fill="#333333" font-weight="normal" stroke="#333333" stroke-width="0.2" >45 MPa</text></g>
<circle cx="234.50" cy="419.00" r="2.7" fill="#ff6410"/>
<g transform="matrix(1.0368,0,0,1,-9.053,0)"><text id="t_legc3" x="242.90" y="422.90" font-size="11" text-anchor="start" fill="#333333" font-weight="normal" stroke="#333333" stroke-width="0.2" >60 MPa</text></g>
<circle cx="234.50" cy="437.50" r="2.7" fill="#ffbf0a"/>
<g transform="matrix(0.9947,0,0,1,1.179,0)"><text id="t_legc4" x="242.90" y="441.40" font-size="11" text-anchor="start" fill="#333333" font-weight="normal" stroke="#333333" stroke-width="0.2" >75 MPa</text></g>
<circle cx="234.50" cy="456.00" r="2.7" fill="#ffff84"/>
<g transform="matrix(1.0368,0,0,1,-9.053,0)"><text id="t_legc5" x="242.90" y="459.90" font-size="11" text-anchor="start" fill="#333333" font-weight="normal" stroke="#333333" stroke-width="0.2" >90 MPa</text></g>
<g transform="matrix(0.9517,0,0,1,5.628,0)"><text id="t_cpet" x="128.40" y="374.10" font-size="11" text-anchor="start" fill="#d42a2a" font-weight="normal" stroke="#d42a2a" stroke-width="0.2" >CPET</text></g>
<line x1="413.50" y1="271.30" x2="413.50" y2="489.30" stroke="#555" stroke-width="1.0"/>
<line x1="413.00" y1="489.60" x2="685.00" y2="489.60" stroke="#8a8a8a" stroke-width="1.3"/>
<line x1="409.30" y1="289.80" x2="413.50" y2="289.80" stroke="#555" stroke-width="1.0"/>
<text id="t_n45" x="404.20" y="293.50" font-size="10.5" text-anchor="end" fill="#333333" font-weight="normal" stroke="#333333" stroke-width="0.2" >5.4</text>
<line x1="409.30" y1="326.14" x2="413.50" y2="326.14" stroke="#555" stroke-width="1.0"/>
<text id="t_n46" x="404.20" y="329.84" font-size="10.5" text-anchor="end" fill="#333333" font-weight="normal" stroke="#333333" stroke-width="0.2" >5.2</text>
<line x1="409.30" y1="362.48" x2="413.50" y2="362.48" stroke="#555" stroke-width="1.0"/>
<text id="t_n47" x="404.20" y="366.18" font-size="10.5" text-anchor="end" fill="#333333" font-weight="normal" stroke="#333333" stroke-width="0.2" >5.0</text>
<line x1="409.30" y1="398.82" x2="413.50" y2="398.82" stroke="#555" stroke-width="1.0"/>
<text id="t_n48" x="404.20" y="402.52" font-size="10.5" text-anchor="end" fill="#333333" font-weight="normal" stroke="#333333" stroke-width="0.2" >4.8</text>
<line x1="409.30" y1="435.16" x2="413.50" y2="435.16" stroke="#555" stroke-width="1.0"/>
<text id="t_n49" x="404.20" y="438.86" font-size="10.5" text-anchor="end" fill="#333333" font-weight="normal" stroke="#333333" stroke-width="0.2" >4.6</text>
<line x1="409.30" y1="471.50" x2="413.50" y2="471.50" stroke="#555" stroke-width="1.0"/>
<text id="t_n50" x="404.20" y="475.20" font-size="10.5" text-anchor="end" fill="#333333" font-weight="normal" stroke="#333333" stroke-width="0.2" >4.4</text>
<line x1="420.40" y1="489.30" x2="420.40" y2="493.90" stroke="#555" stroke-width="1.0"/>
<text id="t_n51" x="420.40" y="507.20" font-size="10.5" text-anchor="middle" fill="#333333" font-weight="normal" stroke="#333333" stroke-width="0.2" >0</text>
<line x1="474.74" y1="489.30" x2="474.74" y2="493.90" stroke="#555" stroke-width="1.0"/>
<text id="t_n52" x="474.74" y="507.20" font-size="10.5" text-anchor="middle" fill="#333333" font-weight="normal" stroke="#333333" stroke-width="0.2" >20</text>
<line x1="529.08" y1="489.30" x2="529.08" y2="493.90" stroke="#555" stroke-width="1.0"/>
<text id="t_n53" x="529.08" y="507.20" font-size="10.5" text-anchor="middle" fill="#333333" font-weight="normal" stroke="#333333" stroke-width="0.2" >40</text>
<line x1="583.42" y1="489.30" x2="583.42" y2="493.90" stroke="#555" stroke-width="1.0"/>
<text id="t_n54" x="583.42" y="507.20" font-size="10.5" text-anchor="middle" fill="#333333" font-weight="normal" stroke="#333333" stroke-width="0.2" >60</text>
<line x1="637.76" y1="489.30" x2="637.76" y2="493.90" stroke="#555" stroke-width="1.0"/>
<text id="t_n55" x="637.76" y="507.20" font-size="10.5" text-anchor="middle" fill="#333333" font-weight="normal" stroke="#333333" stroke-width="0.2" >80</text>
<g transform="matrix(0.9741,0,0,1,14.096,0)"><text id="t_presd" x="549.30" y="526.40" font-size="11.6" text-anchor="middle" fill="#333333" font-weight="normal" stroke="#333333" stroke-width="0.2" >Pressure (MPa)</text></g>
<g transform="matrix(1,0,0,1.0211,-0.8,-8.111)"><text id="t_yd" stroke-width="0.2" transform="translate(374.6,380.4) rotate(-90)" font-size="12" text-anchor="middle" fill="#333333" stroke="#333333">ln(<tspan font-style="italic">k</tspan><tspan font-size="7.6" dy="2.3">obs-CPET</tspan><tspan dy="-2.3">)</tspan></text></g>
<text id="t_Ld" x="364.80" y="275.90" font-size="16.5" text-anchor="start" fill="#000" font-weight="bold" stroke="#000" stroke-width="0" style="stroke-width:0.35px">d</text>
<circle cx="433.70" cy="404.90" r="2.9" fill="#000"/>
<circle cx="501.20" cy="383.10" r="2.9" fill="#000"/>
<circle cx="542.20" cy="375.90" r="2.9" fill="#000"/>
<circle cx="582.80" cy="386.30" r="2.9" fill="#000"/>
<circle cx="623.40" cy="408.10" r="2.9" fill="#000"/>
<circle cx="664.10" cy="364.90" r="2.9" fill="#000"/>
<line x1="433.20" y1="397.20" x2="664.80" y2="378.70" stroke="#f80f0f" stroke-width="2.3"/>
<g transform="matrix(0.9740,0,0,1,12.325,1.0)"><text id="t_annd" stroke-width="0.2" x="455.5" y="443" font-size="10" fill="#333333" stroke="#333333">Δ<tspan font-style="italic">V</tspan><tspan font-size="8" dy="-3.5">‡</tspan><tspan dy="3.5">(</tspan><tspan font-style="italic">k</tspan><tspan font-size="6.2" dy="2.3">obs-</tspan><tspan font-size="6.2" fill="#e82020" stroke="#e82020">CPET</tspan><tspan dy="-2.3">) = </tspan><tspan fill="#e82020" stroke="#e82020">−2.9 ± 3.4</tspan> cm<tspan font-size="6.3" dy="-4">3</tspan><tspan dy="4"> mol</tspan><tspan font-size="6.3" dy="-4">−1</tspan><tspan dy="4"> ≈ </tspan><tspan fill="#e82020" stroke="#e82020">0</tspan></text></g>
</svg></body></html>
